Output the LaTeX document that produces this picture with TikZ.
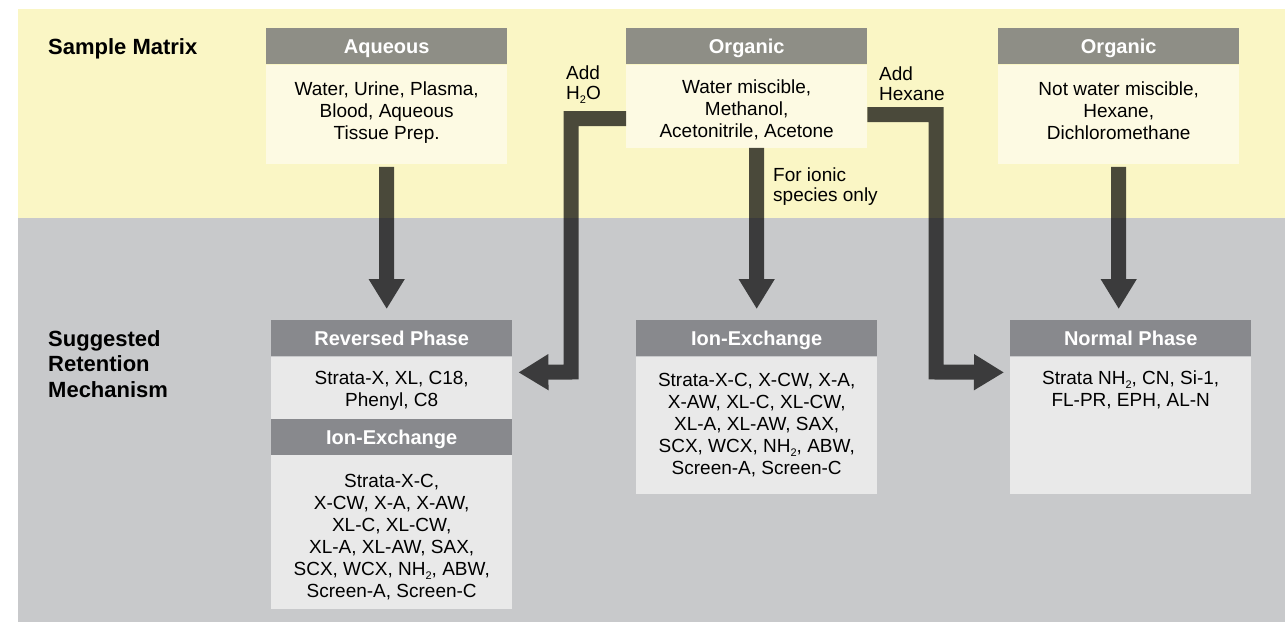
\documentclass[tikz,border=0pt]{standalone}
\usepackage{fontspec}
\setmainfont{Liberation Sans}
\usetikzlibrary{arrows.meta,calc}
\definecolor{cBgYellow}{HTML}{FAF6C5}
\definecolor{cBgGray}{HTML}{C8C9CB}
\definecolor{cTopHead}{HTML}{8E8E86}
\definecolor{cTopBody}{HTML}{FDFAE3}
\definecolor{cBotHead}{HTML}{88898D}
\definecolor{cBotBody}{HTML}{E9E9E9}
\newcommand\subtwo{\raisebox{-0.4ex}{\fontsize{11}{11}\selectfont 2}}
\begin{document}
\begin{tikzpicture}[x=1pt,y=-1pt,
  hdr/.style={inner sep=0pt, minimum width=241pt, minimum height=36pt, text=white,
    text height=15pt, text depth=1pt, anchor=north west, font=\bfseries\fontsize{20}{22}\selectfont},
  tophdr/.style={hdr, fill=cTopHead},
  bothdr/.style={hdr, fill=cBotHead},
  topbox/.style={inner sep=0pt, minimum width=241pt, anchor=north, fill=cTopBody},
  botbox/.style={inner sep=0pt, minimum width=241pt, anchor=north, fill=cBotBody},
  bodytext/.style={inner sep=0pt, anchor=north, align=center, font=\fontsize{19}{22}\selectfont},
  sidelbl/.style={inner sep=0pt, anchor=north west, align=left, font=\fontsize{19}{19.5}\selectfont},
  rowlbl/.style={inner sep=0pt, anchor=north west, align=left, font=\bfseries\fontsize{22}{25.5}\selectfont},
  arr/.style={line width=15pt, draw=black, line join=miter, -{Triangle[length=30pt,width=34pt]}}
]
\useasboundingbox (0,0) rectangle (1285,622);
\fill[cBgYellow] (18,9) rectangle (1285,218);
\fill[cBgGray] (18,218) rectangle (1285,622);

% row labels
\node[rowlbl] (sm) at (48,38) {Sample Matrix};
\node[rowlbl] (srm) at (48,330) {Suggested\\Retention\\Mechanism};

% top boxes
\node[tophdr] (aqh) at (266,28) {Aqueous};
\node[topbox, minimum height=99pt] (aqb) at (aqh.south) {};
\node[bodytext] (aqt) at ($(aqb.north)+(0,17)$) {Water, Urine, Plasma,\\Blood, Aqueous\\Tissue Prep.};

\node[tophdr] (omh) at (626,28) {Organic};
\node[topbox, minimum height=83pt] (omb) at (omh.south) {};
\node[bodytext] (omt) at ($(omb.north)+(0,15)$) {Water miscible,\\Methanol,\\Acetonitrile, Acetone};

\node[tophdr] (orh) at (998,28) {Organic};
\node[topbox, minimum height=99pt] (orb) at (orh.south) {};
\node[bodytext] (ort) at ($(orb.north)+(0,17)$) {Not water miscible,\\Hexane,\\Dichloromethane};

% bottom boxes
\node[bothdr] (rph) at (271,320) {Reversed Phase};
\node[botbox, minimum height=62pt] (rpb) at (rph.south) {};
\node[bodytext] (rpt) at ($(rpb.north)+(0,15)$) {Strata-X, XL, C18,\\Phenyl, C8};
\node[bothdr, anchor=north] (ieh) at (rpb.south) {Ion-Exchange};
\node[botbox, minimum height=154pt] (ieb) at (ieh.south) {};
\node[bodytext] (iet) at ($(ieb.north)+(0,19)$) {Strata-X-C,\\X-CW, X-A, X-AW,\\XL-C, XL-CW,\\XL-A, XL-AW, SAX,\\SCX, WCX, NH\subtwo, ABW,\\Screen-A, Screen-C};

\node[bothdr] (imh) at (636,320) {Ion-Exchange};
\node[botbox, minimum height=137pt] (imb) at (imh.south) {};
\node[bodytext] (imt) at ($(imb.north)+(0,17)$) {Strata-X-C, X-CW, X-A,\\X-AW, XL-C, XL-CW,\\XL-A, XL-AW, SAX,\\SCX, WCX, NH\subtwo, ABW,\\Screen-A, Screen-C};

\node[bothdr] (nph) at (1010,320) {Normal Phase};
\node[botbox, minimum height=137pt] (npb) at (nph.south) {};
\node[bodytext] (npt) at ($(npb.north)+(0,14)$) {Strata NH\subtwo, CN, Si-1,\\FL-PR, EPH, AL-N};

% side labels
\node[sidelbl] (lh2o) at (566,66) {Add\\H\subtwo O};
\node[sidelbl] (lhex) at (879,67) {Add\\Hexane};
\node[sidelbl] (lion) at (773,168) {For ionic\\species only};

% arrows
\coordinate (c1) at (571,372);
\coordinate (c2) at (936,372);
\begin{scope}[transparency group, opacity=0.7]
\draw[arr, shorten >=11pt] ($(aqb.south)+(0,3)$) -- (aqb.south |- rph.north);
\draw[arr, shorten >=11pt] (imh.north |- omb.south) -- (imh.north);
\draw[arr, shorten >=11pt] ($(orb.south)+(0,3)$) -- (orb.south |- nph.north);
\draw[arr] ($(omb.west)+(0,12.5)$) -| (c1) -- ($(rpb.north east)+(6,16)$);
\draw[arr] ($(omb.east)+(0,8.5)$) -| (c2) -- ($(npb.north west)+(-6,16)$);
\end{scope}
\end{tikzpicture}
\end{document}
